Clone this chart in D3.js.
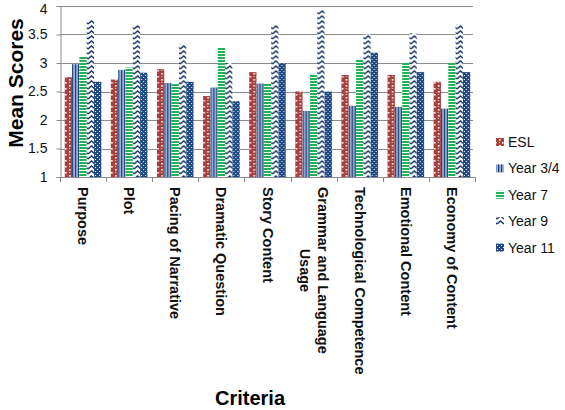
<!DOCTYPE html>
<html>
<head>
<meta charset="utf-8">
<script src="https://cdn.jsdelivr.net/npm/d3@7"></script>
<style>
  html, body { margin: 0; padding: 0; background: #fff; }
  svg { display: block; font-family: "Liberation Sans", Arial, Helvetica, sans-serif; }
</style>
</head>
<body>
<svg id="chart" width="565" height="410"></svg>
<script>
const categories = ["Purpose", "Plot", "Pacing of Narrative", "Dramatic Question", "Story Content",
  "Grammar and Language Usage", "Technological Competence", "Emotional Content", "Economy of Content"];
const seriesNames = ["ESL", "Year 3/4", "Year 7", "Year 9", "Year 11"];
const esl    = [2.75, 2.71, 2.89, 2.42, 2.84, 2.50, 2.79, 2.79, 2.67];
const year34 = [2.98, 2.88, 2.65, 2.57, 2.64, 2.16, 2.25, 2.23, 2.20];
const year7  = [3.12, 2.92, 2.65, 3.27, 2.64, 2.81, 3.07, 3.01, 3.01];
const year9  = [3.75, 3.67, 3.33, 3.00, 3.67, 3.93, 3.50, 3.52, 3.68];
const year11 = [2.67, 2.83, 2.67, 2.33, 3.00, 2.50, 3.18, 2.84, 2.84];
const yTicks = [1, 1.5, 2, 2.5, 3, 3.5, 4];
const seriesValues = [esl, year34, year7, year9, year11];

const svg = d3.select("#chart");
const plotL = 60, plotR = 475, plotT = 6, plotB = 177;

// patterns
const defs = svg.append("defs");
function pat(id, w, h, build) {
  const p = defs.append("pattern").attr("id", id).attr("patternUnits", "userSpaceOnUse")
    .attr("width", w).attr("height", h);
  build(p);
}
pat("p0", 7, 6, p => {
  p.append("rect").attr("width", 7).attr("height", 6).attr("fill", "#a8403e");
  p.append("rect").attr("x", 2).attr("y", 1).attr("width", 1.6).attr("height", 1.6).attr("fill", "#fff");
  p.append("rect").attr("x", 5).attr("y", 4).attr("width", 1.6).attr("height", 1.6).attr("fill", "#fff");
  p.append("rect").attr("x", 2).attr("y", 4).attr("width", 1).attr("height", 1).attr("fill", "#f3d0d0");
});
pat("p1", 3, 3, p => {
  p.append("rect").attr("width", 3).attr("height", 3).attr("fill", "#9cb3d8");
  p.append("rect").attr("x", 0).attr("width", 1.2).attr("height", 3).attr("fill", "#1f3d75");
});
pat("p2", 3, 3, p => {
  p.append("rect").attr("width", 3).attr("height", 3).attr("fill", "#22b256");
  p.append("rect").attr("y", 2).attr("width", 3).attr("height", 1).attr("fill", "#ffffff");
});
pat("p3", 7, 5, p => {
  p.append("rect").attr("width", 7).attr("height", 5).attr("fill", "#ffffff");
  p.append("path").attr("d", "M0,4 L3.5,1 L7,4").attr("fill", "none")
    .attr("stroke", "#1f3c6e").attr("stroke-width", 1.6);
});
pat("p4", 4, 4, p => {
  p.append("rect").attr("width", 4).attr("height", 4).attr("fill", "#1f4a86");
  p.append("rect").attr("x", 1).attr("y", 1).attr("width", 1).attr("height", 1).attr("fill", "#e8eef8");
  p.append("rect").attr("x", 3).attr("y", 3).attr("width", 1).attr("height", 1).attr("fill", "#e8eef8");
});

const x0 = d3.scaleBand().domain(categories).range([plotL, plotR]).paddingInner(0).paddingOuter(0);
const x1 = d3.scaleBand().domain(seriesNames).range([0, x0.bandwidth()]).paddingInner(0).paddingOuter(0.65);
const y = d3.scaleLinear().domain([1, 4]).range([plotB, plotT]);

// gridlines
svg.append("g").selectAll("line").data(yTicks.filter(t => t > 1)).join("line")
  .attr("x1", plotL).attr("x2", plotR - 2)
  .attr("y1", d => Math.round(y(d)) + 0.5).attr("y2", d => Math.round(y(d)) + 0.5)
  .attr("stroke", "#8c8c8c").attr("stroke-width", 1);

// bars
const rows = categories.map((c, i) => ({c, vals: seriesNames.map((s, j) => ({s, j, v: seriesValues[j][i]}))}));
const g = svg.append("g");
g.selectAll("g").data(rows).join("g")
  .attr("transform", d => `translate(${x0(d.c)},0)`)
  .selectAll("rect").data(d => d.vals).join("rect")
  .attr("x", d => x1(d.s)).attr("width", x1.bandwidth())
  .attr("y", d => y(d.v)).attr("height", d => y(1) - y(d.v))
  .attr("fill", d => `url(#p${d.j})`);

// y axis
const yAxis = svg.append("g").attr("transform", `translate(${plotL + 0.5},0)`)
  .call(d3.axisLeft(y).tickValues(yTicks).tickFormat(d3.format("")).tickSize(4).tickPadding(9));
yAxis.select(".domain").attr("stroke", "#8c8c8c");
yAxis.selectAll(".tick line").attr("stroke", "#8c8c8c");
yAxis.selectAll("text").attr("font-size", 14).attr("fill", "#111")
  .attr("font-family", "'Liberation Sans', Arial, sans-serif")
  .attr("dy", d => d === 4 ? "0.5em" : "0.32em");

// x axis line + boundary ticks
svg.append("line").attr("x1", plotL).attr("x2", plotR).attr("y1", plotB + 0.5).attr("y2", plotB + 0.5)
  .attr("stroke", "#8c8c8c");
const bounds = categories.map(c => x0(c)).concat([plotR]);
svg.append("g").selectAll("line").data(bounds).join("line")
  .attr("x1", d => Math.round(d) + 0.5).attr("x2", d => Math.round(d) + 0.5)
  .attr("y1", plotB).attr("y2", plotB + 5).attr("stroke", "#8c8c8c");

// category labels (rotated clockwise)
const wrapMap = {"Grammar and Language Usage": ["Grammar and Language", "Usage"]};
const labFont = 14.5;
categories.forEach(c => {
  const cx = x0(c) + x0.bandwidth() / 2;
  const lines = wrapMap[c] || [c];
  const top = 187;
  const t = svg.append("text")
    .attr("font-size", labFont).attr("font-weight", "bold").attr("fill", "#111")
    .attr("transform", `translate(${cx},${top}) rotate(90)`);
  if (lines.length === 1) {
    t.attr("text-anchor", "start").attr("x", 0).attr("y", 5).text(c);
  } else {
    const tmp = svg.append("text").attr("font-size", labFont).attr("font-weight", "bold").text(lines[0]);
    const len = tmp.node().getComputedTextLength();
    tmp.remove();
    const lh = 18;
    lines.forEach((ln, k) => {
      t.append("tspan").attr("text-anchor", "middle").attr("x", len / 2)
        .attr("y", 5 + (k - (lines.length - 1) / 2) * lh).text(ln);
    });
  }
});

// axis titles
svg.append("text").attr("transform", "translate(23,83) rotate(-90)")
  .attr("text-anchor", "middle").attr("font-size", 21).attr("font-weight", "bold").attr("fill", "#000")
  .text("Mean Scores");
svg.append("text").attr("x", 250).attr("y", 405)
  .attr("text-anchor", "middle").attr("font-size", 20).attr("font-weight", "bold").attr("fill", "#000")
  .text("Criteria");

// legend
const lg = svg.append("g");
seriesNames.forEach((s, j) => {
  const cy = 142 + j * 26.4;
  lg.append("rect").attr("x", 496).attr("y", cy - 4).attr("width", 8).attr("height", 8)
    .attr("fill", `url(#p${j})`);
  lg.append("text").attr("x", 508).attr("y", cy + 5).attr("font-size", 14).attr("fill", "#111")
    .text(s);
});
</script>
</body>
</html>
